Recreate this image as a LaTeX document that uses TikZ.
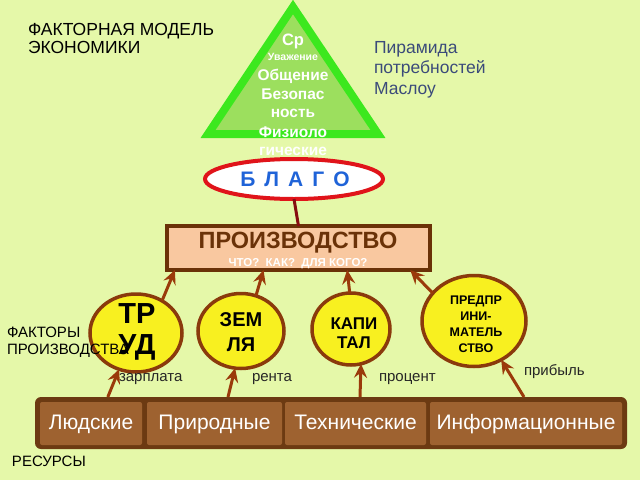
\documentclass[tikz,border=0pt]{standalone}
\usepackage{fontspec}
\setmainfont{Liberation Sans}
\usetikzlibrary{positioning, shapes.geometric, arrows.meta, calc}

\definecolor{bgcol}{HTML}{E5F8A9}
\definecolor{pyrline}{HTML}{3CE81E}
\definecolor{pyrfill}{HTML}{9CDF5E}
\definecolor{blagored}{HTML}{E0141A}
\definecolor{blagoblue}{HTML}{1F63D8}
\definecolor{prodfill}{HTML}{F9C8A0}
\definecolor{prodline}{HTML}{6A3208}
\definecolor{factfill}{HTML}{F8F020}
\definecolor{factline}{HTML}{8A3A0C}
\definecolor{arrcol}{HTML}{9A3A0A}
\definecolor{rescont}{HTML}{6C3A12}
\definecolor{resfill}{HTML}{9E6230}
\definecolor{notecol}{HTML}{3B4B7A}

\newcommand{\fsz}[2]{\fontsize{#1}{#2}\selectfont}

\begin{document}
\begin{tikzpicture}[
  x=1pt, y=-1pt,
  every node/.style={inner sep=0pt, outer sep=0pt},
  pyrtext/.style={anchor=base, text=white, font=\bfseries},
  factor/.style={ellipse, draw=factline, fill=factfill, line width=3.5pt},
  factext/.style={align=center, font=\bfseries},
  resbox/.style={rectangle, rounded corners=2pt, fill=resfill, text=white,
    minimum height=43pt, text height=15pt, text depth=4pt, font=\fsz{21}{24}},
  arrow/.style={-{Stealth[length=14pt, width=13pt, inset=5pt]},
    line width=3pt, draw=arrcol},
  pay/.style={anchor=base west, font=\fsz{15}{16}, text=black!85}
]
  % background
  \fill[bgcol] (0,0) rectangle (640,480);

  % headings
  \node[anchor=north west, align=left, font=\fsz{17.5}{18}] (title) at (28,23)
    {ФАКТОРНАЯ МОДЕЛЬ\\ЭКОНОМИКИ};
  \node[anchor=north west, align=left, font=\fsz{17.5}{20.5}, text=notecol] (maslow) at (374,41)
    {Пирамида\\потребностей\\Маслоу};
  \node[anchor=base west, font=\fsz{15}{16}] (resources) at (12,466) {РЕСУРСЫ};

  % Maslow pyramid
  \draw[draw=pyrline, fill=pyrfill, line width=8pt, line join=miter]
    (293,7) -- (378,134) -- (208,134) -- cycle;
  \foreach \t/\y/\s [count=\i] in {Ср/45/16.5, Уважение/60/10.5, Общение/80/15.5,
      Безопас/99/15.5, ность/117/15.5, Физиоло/137/15.5, гические/155/15.5}
    \node[pyrtext, font=\bfseries\fsz{\s}{\s}] (lvl\i) at (293,\y) {\t};

  % good and production
  \node[ellipse, draw=blagored, fill=white, line width=4pt,
    minimum width=178pt, minimum height=40pt] (blago) at (294,179) {};
  \node[anchor=base, text=blagoblue, font=\bfseries\fsz{21}{21}] (blagotext) at (295,186)
    {Б\hspace{9pt}Л\hspace{9pt}А\hspace{9pt}Г\hspace{9pt}О};
  \node[rectangle, draw=prodline, fill=prodfill, line width=4pt,
    minimum width=263pt, minimum height=44pt] (prod) at (298.5,248) {};
  \node[anchor=base, text=prodline, font=\bfseries\fsz{23.5}{23.5}] (prodtext) at (298,248)
    {ПРОИЗВОДСТВО};
  \node[anchor=base, text=white, font=\bfseries\fsz{11.5}{11.5}] (questions) at (298,266)
    {ЧТО?\ \ КАК?\ \ ДЛЯ КОГО?};
  \draw[draw=blagored!60!black, line width=3pt] (blago.south) -- (prod.north);

  % factors of production
  \node[factor, minimum width=92pt, minimum height=78pt] (trud) at (136,333) {};
  \node[factor, minimum width=86pt, minimum height=75pt] (zemlya) at (241,331) {};
  \node[factor, minimum width=78pt, minimum height=72pt] (kapital) at (351,329) {};
  \node[factor, minimum width=104pt, minimum height=91pt] (predpr) at (474,321) {};
  \node[anchor=north west, align=left, font=\fsz{15}{17}] (factors) at (7,327)
    {ФАКТОРЫ\\ПРОИЗВОДСТВА};
  \node[factext, font=\bfseries\fsz{29}{31}] (trudtext) at (137,332) {ТР\\УД};
  \node[factext, font=\bfseries\fsz{20}{25}] (zemlyatext) at (241,332) {ЗЕМ\\ЛЯ};
  \node[factext, font=\bfseries\fsz{17}{19.5}] (kapitaltext) at (354,333) {КАПИ\\ТАЛ};
  \node[factext, font=\bfseries\fsz{12.5}{16}] (predprtext) at (476,324)
    {ПРЕДПР\\ИНИ-\\МАТЕЛЬ\\СТВО};

  % resources
  \node[rectangle, rounded corners=6pt, fill=rescont,
    minimum width=592pt, minimum height=52pt] (res) at (331,423) {};
  \node[resbox, minimum width=102pt] (people) at (91,423.5) {Людские};
  \node[resbox, minimum width=135pt] (nature) at (214.5,423.5) {Природные};
  \node[resbox, minimum width=141pt] (tech) at (355.5,423.5) {Технические};
  \node[resbox, minimum width=192pt] (info) at (526,423.5) {Информационные};

  % incomes
  \node[pay] (wage) at (119,381) {зарплата};
  \node[pay] (rent) at (252,381) {рента};
  \node[pay] (interest) at (379,381) {процент};
  \node[pay] (profit) at (524,375) {прибыль};

  % arrows
  \draw[arrow] (trud.51) -- ($(prod.south west)!0.03!(prod.south east)$);
  \draw[arrow] (zemlya.67) -- ($(prod.south west)!0.367!(prod.south east)$);
  \draw[arrow] (kapital.92) -- ($(prod.south west)!0.685!(prod.south east)$);
  \draw[arrow] (predpr.146) -- ($(prod.south west)!0.925!(prod.south east)$);
  \draw[arrow] ($(res.north west)!0.123!(res.north east)$) -- (trud.245);
  \draw[arrow] ($(res.north west)!0.326!(res.north east)$) -- (zemlya.261);
  \draw[arrow] ($(res.north west)!0.549!(res.north east)$) -- (kapital.286);
  \draw[arrow] ($(res.north west)!0.826!(res.north east)$) -- (predpr.305);
\end{tikzpicture}
\end{document}
